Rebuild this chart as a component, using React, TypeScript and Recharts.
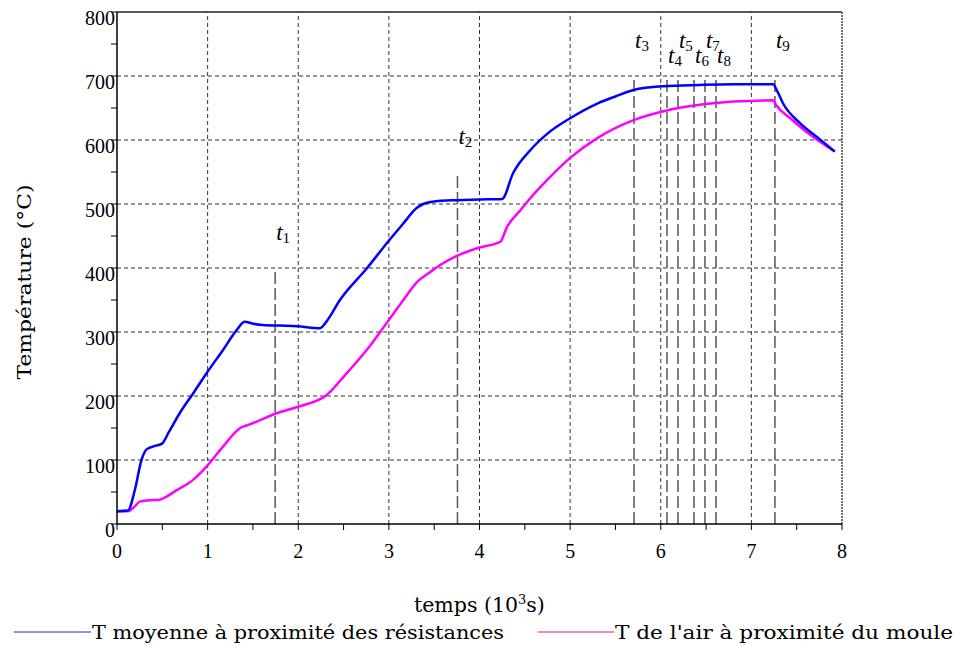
import React from 'react';
import { LineChart, Line, XAxis, YAxis, ReferenceLine } from 'recharts';

// Mean temperature near the heating resistances (blue)
const blueTimes = [0, 0.12, 0.2, 0.27, 0.33, 0.42, 0.5, 0.57, 0.7, 0.84, 0.99, 1.17, 1.32, 1.41, 1.5, 1.61, 1.8, 1.99, 2.24, 2.32, 2.46, 2.76, 2.99, 3.15, 3.31, 3.38, 3.5, 3.75, 4.0, 4.25, 4.37, 4.56, 4.75, 5.0, 5.3, 5.5, 5.7, 6.03, 6.43, 6.8, 7.24, 7.28, 7.35, 7.54, 7.72, 7.92];
const blueTemps = [20, 21, 55, 100, 117, 122, 126, 143, 175, 204, 236, 272, 303, 316, 313, 311, 310, 309, 306, 318, 350, 400, 441, 468, 494, 500, 504, 506, 507, 508, 548, 584, 610, 634, 657, 668, 678, 684, 686, 687, 687, 678, 657, 626, 605, 582];

// Air temperature near the mould (magenta)
const pinkTimes = [0, 0.12, 0.2, 0.25, 0.35, 0.47, 0.56, 0.66, 0.84, 0.99, 1.17, 1.36, 1.45, 1.54, 1.76, 2.02, 2.24, 2.3, 2.5, 2.79, 2.99, 3.15, 3.31, 3.45, 3.57, 3.75, 4.0, 4.23, 4.3, 4.45, 4.56, 4.75, 5.0, 5.3, 5.7, 6.03, 6.43, 6.8, 7.24, 7.27, 7.43, 7.65, 7.92];
const pinkTemps = [20, 20, 28, 35, 37, 38, 44, 53, 69, 90, 121, 150, 155, 160, 173, 184, 195, 200, 230, 278, 317, 348, 378, 393, 405, 419, 432, 441, 463, 490, 509, 538, 572, 603, 631, 645, 655, 660, 662, 655, 634, 608, 582];

// Event markers t1..t9
const markerTimes = [1.745, 3.757, 5.705, 6.069, 6.19, 6.367, 6.488, 6.61, 7.26];
const markerTops = [400, 550, 700, 700, 700, 700, 700, 700, 700];
const markerNames = ['1', '2', '3', '4', '5', '6', '7', '8', '9'];
const markerRows = [0, 0, 0, 1, 0, 1, 0, 1, 0];

const xTicks = [0, 0.5, 1, 1.5, 2, 2.5, 3, 3.5, 4, 4.5, 5, 5.5, 6, 6.5, 7, 7.5, 8];
const yTicks = [0, 50, 100, 150, 200, 250, 300, 350, 400, 450, 500, 550, 600, 650, 700, 750, 800];
const xGrid = [1, 2, 3, 4, 5, 6, 7];
const yGrid = [100, 200, 300, 400, 500, 600, 700];

const xTitle = 'temps (10';
const yTitle = 'Température (°C)';
const seriesNames = ['T moyenne à proximité des résistances', "T de l'air à proximité du moule"];

const blueData = blueTimes.map((t, i) => ({ t, v: blueTemps[i] }));
const pinkData = pinkTimes.map((t, i) => ({ t, v: pinkTemps[i] }));

const SERIF = { fontFamily: "'Liberation Serif', 'DejaVu Serif', serif" };
const WIDE_SERIF = { fontFamily: "'DejaVu Serif', 'Liberation Serif', serif" };

const XTick = (props: any) => {
  const { x, y, payload } = props;
  const v = payload.value;
  if (Math.abs(v - Math.round(v)) > 1e-6) return null;
  return (
    <text x={x} y={y + 28} textAnchor="middle" style={SERIF} fontSize={20} fill="#000">
      {String(Math.round(v))}
    </text>
  );
};

const YTick = (props: any) => {
  const { x, y, payload } = props;
  const v = payload.value;
  if (v % 100 !== 0) return null;
  return (
    <text x={x + 4} y={y + 13} textAnchor="end" style={SERIF} fontSize={20} fill="#000">
      {String(v)}
    </text>
  );
};

const makeMarkerShape = (idx: number) => (props: any) => {
  const { x1, y1, x2, y2 } = props;
  const top = Math.min(y1, y2);
  const bottom = Math.max(y1, y2);
  const lx = x1 + 1;
  const low = markerRows[idx] === 1;
  const ly = low ? top - 13 : top - 28;
  return (
    <g>
      <line x1={x1} y1={bottom} x2={x2} y2={top} stroke="#555" strokeWidth={1.5} strokeDasharray="12 4" />
      <text x={lx} y={ly} style={{ ...SERIF, fontStyle: 'italic' }} fontSize={23} fill="#000">
        t
        <tspan style={{ fontStyle: 'normal' }} fontSize={15} dy={3}>{markerNames[idx]}</tspan>
      </text>
    </g>
  );
};

export default function App() {
  return (
    <div style={{ position: 'absolute', left: 0, top: 0, width: 954, height: 646, background: '#fff' }}>
      <LineChart
        width={954}
        height={646}
        margin={{ top: 12, right: 112, left: 57, bottom: 82 }}
      >
        <XAxis
          type="number"
          dataKey="t"
          domain={[0, 8]}
          ticks={xTicks}
          allowDataOverflow
          height={40}
          tickSize={6}
          tickMargin={0}
          tick={<XTick />}
          axisLine={{ stroke: '#000', strokeWidth: 1.5 }}
          tickLine={{ stroke: '#000' }}
          interval={0}
        />
        <YAxis
          type="number"
          dataKey="v"
          domain={[0, 800]}
          ticks={yTicks}
          allowDataOverflow
          width={60}
          tickSize={6}
          tickMargin={0}
          tick={<YTick />}
          axisLine={{ stroke: '#000', strokeWidth: 1.5 }}
          tickLine={{ stroke: '#000' }}
          interval={0}
        />
        {xGrid.map((g) => (
          <ReferenceLine key={'gx' + g} x={g} stroke="#333" strokeWidth={1} strokeDasharray="4 3" />
        ))}
        {yGrid.map((g) => (
          <ReferenceLine key={'gy' + g} y={g} stroke="#333" strokeWidth={1} strokeDasharray="4 3" />
        ))}
        <ReferenceLine y={800} stroke="#222" strokeWidth={1.5} />
        <ReferenceLine x={8} stroke="#444" strokeWidth={1.5} strokeDasharray="2 1" />
        {markerTimes.map((m, i) => (
          <ReferenceLine
            key={'m' + i}
            segment={[{ x: m, y: 0 }, { x: m, y: markerTops[i] }]}
            shape={makeMarkerShape(i)}
          />
        ))}
        <Line
          data={pinkData}
          dataKey="v"
          type="monotone"
          stroke="#ff00ff"
          strokeWidth={2.5}
          dot={false}
          isAnimationActive={false}
        />
        <Line
          data={blueData}
          dataKey="v"
          type="monotone"
          stroke="#0000ff"
          strokeWidth={2.5}
          dot={false}
          isAnimationActive={false}
        />
      </LineChart>
      <svg width={954} height={646} style={{ position: 'absolute', left: 0, top: 0, pointerEvents: 'none' }}>
        <text
          transform="translate(31,282) rotate(-90)"
          textAnchor="middle"
          style={WIDE_SERIF}
          fontSize={19}
          fill="#000"
          textLength={195}
          lengthAdjust="spacingAndGlyphs"
        >
          {yTitle}
        </text>
        <text x={414} y={612} style={WIDE_SERIF} fontSize={20.5} fill="#000">
          {xTitle}
          <tspan dy={-8} fontSize={13}>3</tspan>
          <tspan dy={8}>s)</tspan>
        </text>
        <line x1={14} y1={632} x2={91} y2={632} stroke="#1a2ad8" strokeWidth={1} />
        <text x={92} y={639} style={WIDE_SERIF} fontSize={19} fill="#000" textLength={412} lengthAdjust="spacingAndGlyphs">
          {seriesNames[0]}
        </text>
        <line x1={538} y1={632} x2={614} y2={632} stroke="#cc1a88" strokeWidth={1} />
        <text x={615} y={639} style={WIDE_SERIF} fontSize={19} fill="#000" textLength={338} lengthAdjust="spacingAndGlyphs">
          {seriesNames[1]}
        </text>
      </svg>
    </div>
  );
}
